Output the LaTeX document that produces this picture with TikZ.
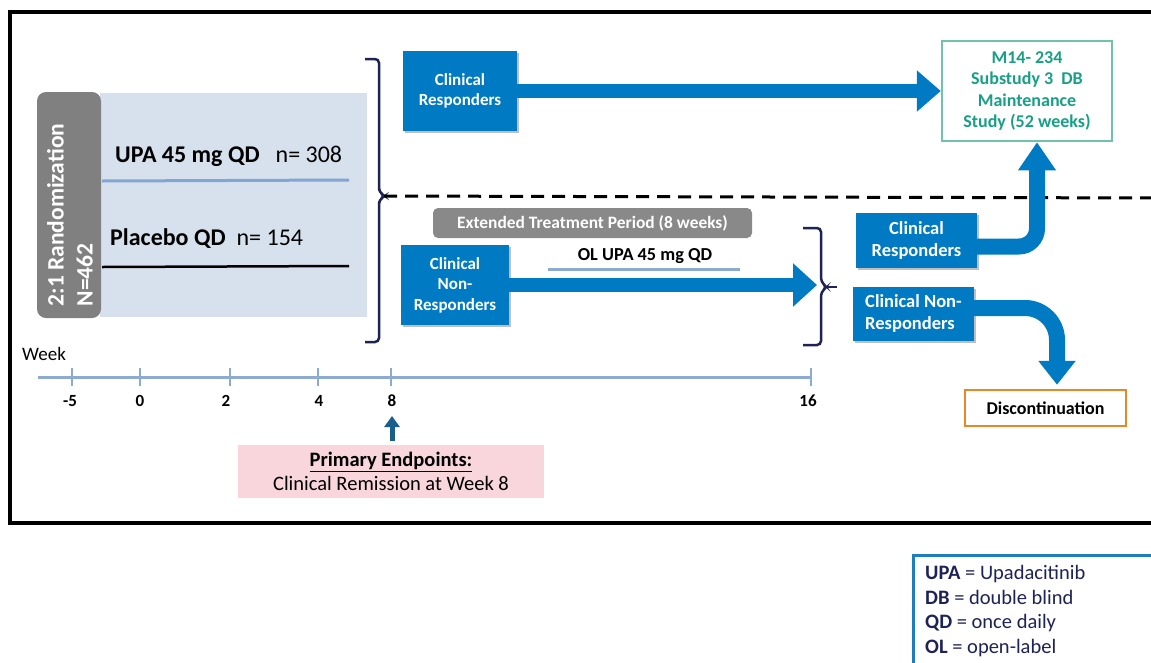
\documentclass[tikz,border=0pt]{standalone}
\usepackage{fontspec}
\setmainfont{Carlito}
\usetikzlibrary{arrows.meta,shadows}
\definecolor{boxblue}{RGB}{0,122,194}
\definecolor{bgblue}{RGB}{215,225,238}
\definecolor{randgray}{RGB}{128,128,128}
\definecolor{extgray}{RGB}{137,137,137}
\definecolor{tealt}{RGB}{24,160,135}
\definecolor{tealb}{RGB}{110,195,170}
\definecolor{orangec}{RGB}{230,135,40}
\definecolor{navyc}{RGB}{30,35,85}
\definecolor{tlinec}{RGB}{140,170,210}
\definecolor{pinkc}{RGB}{248,214,219}
\definecolor{legblue}{RGB}{30,125,190}
\definecolor{darkarrow}{RGB}{25,95,140}
\begin{document}
\begin{tikzpicture}[x=1pt,y=-1pt,
  bluebox/.style={fill=boxblue, text=white, align=center, inner sep=0pt,
    font=\fontsize{17}{20.5}\selectfont\bfseries,
    drop shadow={shadow xshift=2pt,shadow yshift=-2pt,fill=black,opacity=0.25}},
  bigarrow/.style={draw=boxblue, line width=14pt},
  bracketc/.style={draw=navyc, line width=2.5pt, rounded corners=4pt},
  tickc/.style={draw=tlinec, line width=2pt},
  ticklabel/.style={font=\fontsize{17}{19}\selectfont\bfseries, inner sep=0pt, anchor=base},
  pale/.style={draw=tlinec, line width=3pt}
]
\useasboundingbox (0,0) rectangle (1151,662);
\clip (0,0) rectangle (1151,662);
\fill[white] (0,0) rectangle (1151,662);

% outer frame
\draw[line width=4pt] (1170,12) -- (10,12) -- (10,523) -- (1170,523);

% randomisation block
\node[fill=bgblue, minimum width=267pt, minimum height=224pt, inner sep=0pt] (bg) at (233.5,205) {};
\node[fill=randgray, rounded corners=9pt, minimum width=64pt, minimum height=226pt, inner sep=0pt] (rand) at (69,205) {};
\node[rotate=90, text=white, align=left, inner sep=0pt, font=\fontsize{23.5}{29}\selectfont\bfseries] (randtxt) at (70,215) {2:1 Randomization\\N=462};
\node[anchor=base west, inner sep=0pt, font=\fontsize{24}{28}\selectfont] (upa) at (115,162) {\textbf{UPA 45 mg QD}\hspace{16pt}n= 308};
\node[anchor=base west, inner sep=0pt, font=\fontsize{24}{28}\selectfont] (pbo) at (110,245) {\textbf{Placebo QD}\hspace{11pt}n= 154};
\coordinate (ua) at (102,181); \coordinate (ub) at (349,180);
\draw[draw={rgb,255:red,130;green,165;blue,210}, line width=3pt] (ua) -- (ub);
\coordinate (pa) at (102,267); \coordinate (pb) at (349,266);
\draw[line width=2.5pt] (pa) -- (pb);

% big bracket
\draw[bracketc] (365,59) -- (379,59) -- (379,192) -- (385,196) -- (379,200) -- (379,342) -- (365,342);
\coordinate (b1tip) at (384,196);
\coordinate (dashend) at (1160,198);
\draw[line width=3pt, dash pattern=on 13pt off 8pt] (b1tip) -- (dashend);

% upper branch
\node[bluebox, minimum width=114pt, minimum height=80pt] (cr1) at (460,91) {Clinical\\Responders};
\node[draw=tealb, line width=2.5pt, minimum width=170pt, minimum height=100pt, inner sep=0pt,
  text=tealt, align=center, font=\fontsize{18}{21.5}\selectfont\bfseries] (m14) at (1027,91)
  {M14- 234\\Substudy 3\ \ DB\\Maintenance\\Study (52 weeks)};
\draw[bigarrow, -{Triangle[width=40pt,length=24pt]}] (cr1.east) -- (m14.west);

% lower branch
\node[fill=extgray, rounded corners=5pt, minimum width=319pt, minimum height=30pt, inner sep=0pt,
  text=white, font=\fontsize{17.4}{19}\selectfont\bfseries] (ext) at (592.5,223) {Extended Treatment Period (8 weeks)};
\node[bluebox, minimum width=108pt, minimum height=80pt] (nr1) at (455,285) {Clinical\\Non-\\Responders};
\node[inner sep=0pt, font=\fontsize{18.3}{20}\selectfont\bfseries] (ol) at (645,256) {OL UPA 45 mg QD};
\coordinate (oa) at (548,269); \coordinate (ob) at (740,269);
\draw[pale] (oa) -- (ob);
\coordinate (b2tip) at (817,285);
\draw[bigarrow, -{Triangle[width=42pt,length=24pt]}] (nr1.east) -- (b2tip);
\draw[bracketc] (803,228) -- (821,228) -- (821,282) -- (827,287) -- (821,292) -- (821,345) -- (803,345);
\coordinate (b2out) at (837,287);
\draw[draw=navyc, line width=2.5pt] (825,287) -- (b2out);

% week-16 outcomes
\node[bluebox, minimum width=121pt, minimum height=55pt, font=\fontsize{18.5}{22.5}\selectfont\bfseries] (cr2) at (916.5,240.5) {Clinical\\Responders};
\node[bluebox, minimum width=121pt, minimum height=54pt, font=\fontsize{18.5}{22.5}\selectfont\bfseries] (nr2) at (913.5,314) {\begin{tabular}{@{}l@{}}Clinical Non-\\Responders\end{tabular}};
\node[draw=orangec, line width=2.5pt, minimum width=161pt, minimum height=36pt, inner sep=0pt,
  font=\fontsize{18}{20}\selectfont\bfseries] (disc) at (1045.5,408) {Discontinuation};
\draw[draw=boxblue, line width=16pt, rounded corners=18pt, -{Triangle[width=36pt,length=28pt]}]
  ([yshift=-6pt]cr2.east) -| ([xshift=10pt]m14.south);
\draw[draw=boxblue, line width=16pt, rounded corners=32pt, shorten >=4pt, -{Triangle[width=36pt,length=24pt]}]
  ([yshift=6pt]nr2.east) -| ([xshift=11.5pt]disc.north);

% timeline
\node[anchor=base west, inner sep=0pt, font=\fontsize{19}{21}\selectfont] (week) at (22,360) {Week};
\coordinate (tla) at (38,377); \coordinate (tlb) at (812,377);
\draw[pale] (tla) -- (tlb);
\foreach \x in {72,140,230,318,391,811} { \draw[tickc] (\x,368) -- (\x,386); }
\node[ticklabel] (tm5) at (70,406) {-5};
\node[ticklabel] (t0) at (140,406) {0};
\node[ticklabel] (t2) at (226,406) {2};
\node[ticklabel] (t4) at (319,406) {4};
\node[ticklabel] (t8) at (392,406) {8};
\node[ticklabel] (t16) at (808,406) {16};

% primary endpoint
\node[fill=pinkc, minimum width=306pt, minimum height=53pt, inner sep=0pt, align=center,
  font=\fontsize{20.5}{24}\selectfont] (pe) at (391,471.5) {\textbf{\underline{Primary Endpoints:}}\\Clinical Remission at Week 8};
\coordinate (ep8) at (392,416);
\draw[draw=darkarrow, line width=5pt, shorten <=4pt, -{Triangle[width=15pt,length=11pt]}] (pe.north -| ep8) -- (ep8);

% legend
\node[draw=legblue, line width=2.5pt, anchor=north west, minimum width=270pt, minimum height=130pt] (leg) at (912,554) {};
\node[anchor=north west, align=left, inner sep=0pt, text=navyc, font=\fontsize{20.5}{24.7}\selectfont] (legtxt) at (925,565)
  {\textbf{UPA} = Upadacitinib\\\textbf{DB} = double blind\\\textbf{QD} = once daily\\\textbf{OL} = open-label};
\end{tikzpicture}
\end{document}
